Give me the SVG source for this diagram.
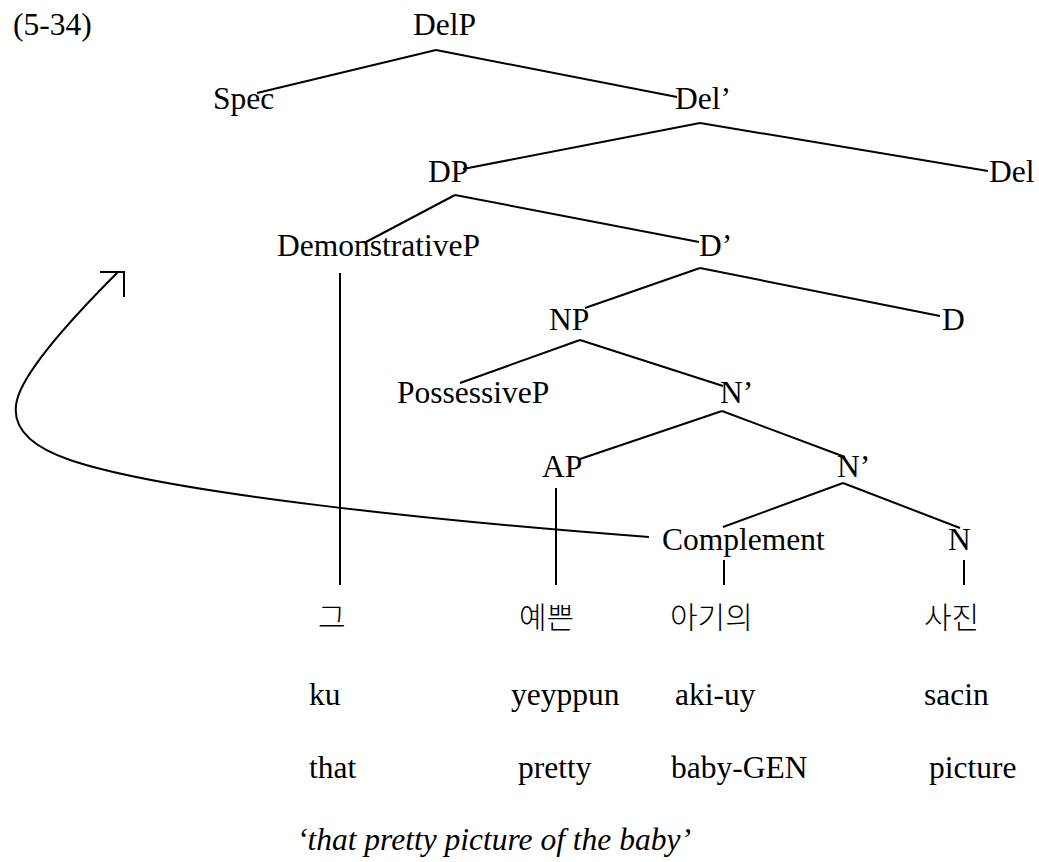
<svg xmlns="http://www.w3.org/2000/svg" width="1039" height="862" viewBox="0 0 1039 862">
  <style>
    .lbl { font-family: "Liberation Serif", "Times New Roman", serif; font-size: 31.5px; fill: #000; }
    .kor { font-family: "Noto Sans CJK KR", sans-serif; font-size: 30px; font-weight: 300; fill: #000; }
    .it { font-style: italic; }
    .edge { stroke: #000; stroke-width: 2; fill: none; stroke-linecap: butt; }
    .mv { stroke: #000; stroke-width: 2; fill: none; }
  </style>
  <rect width="1039" height="862" fill="#fff"/>

  <text class="lbl" x="13" y="35">(5-34)</text>

  <!-- tree edges, movement arrow and leaf stems -->
  <g id="connectors">
    <line class="edge" x1="436" y1="50" x2="257" y2="93"/>
    <line class="edge" x1="436" y1="50" x2="677" y2="97"/>
    <line class="edge" x1="700" y1="123" x2="463" y2="169"/>
    <line class="edge" x1="700" y1="123" x2="988" y2="171"/>
    <line class="edge" x1="455" y1="195" x2="366" y2="242"/>
    <line class="edge" x1="455" y1="195" x2="699" y2="242"/>
    <line class="edge" x1="700" y1="268" x2="585" y2="308"/>
    <line class="edge" x1="700" y1="268" x2="940" y2="316"/>
    <line class="edge" x1="580" y1="340" x2="460" y2="383"/>
    <line class="edge" x1="580" y1="340" x2="723" y2="386"/>
    <line class="edge" x1="722" y1="411" x2="580" y2="459"/>
    <line class="edge" x1="722" y1="411" x2="845" y2="457"/>
    <line class="edge" x1="843" y1="483" x2="723" y2="527"/>
    <line class="edge" x1="843" y1="483" x2="960" y2="528"/>
    <!-- stems down to the words -->
    <line class="edge" x1="340" y1="273" x2="340" y2="585"/>
    <line class="edge" x1="556" y1="488" x2="556" y2="585"/>
    <line class="edge" x1="724" y1="560" x2="724" y2="585"/>
    <line class="edge" x1="964" y1="560" x2="964" y2="585"/>
    <!-- movement of the complement -->
    <path class="mv" d="M649,537 C449,522 170,494 70,460 C20,443 12,420 17,400 C24,372 70,320 118,272"/>
    <polyline class="mv" points="100,272 124,272 124,297"/>
  </g>

  <g id="delp"><text class="lbl" x="413" y="35">DelP</text></g>
  <g id="spec"><text class="lbl" x="213" y="109">Spec</text></g>
  <g id="del-bar"><text class="lbl" x="675" y="109">Del’</text></g>
  <g id="dp"><text class="lbl" x="428" y="182">DP</text></g>
  <g id="del"><text class="lbl" x="989" y="182">Del</text></g>
  <g id="demonstrativep"><text class="lbl" x="277" y="256">DemonstrativeP</text></g>
  <g id="d-bar"><text class="lbl" x="699" y="256">D’</text></g>
  <g id="np"><text class="lbl" x="549" y="330">NP</text></g>
  <g id="d"><text class="lbl" x="942" y="330">D</text></g>
  <g id="possessivep"><text class="lbl" x="397" y="403">PossessiveP</text></g>
  <g id="n-bar-1"><text class="lbl" x="720" y="403">N’</text></g>
  <g id="ap"><text class="lbl" x="542" y="477">AP</text></g>
  <g id="n-bar-2"><text class="lbl" x="837" y="477">N’</text></g>
  <g id="complement"><text class="lbl" x="662" y="550">Complement</text></g>
  <g id="n"><text class="lbl" x="948" y="550">N</text></g>

  <!-- Korean words -->
  <g id="word-ku">
    <text class="kor" x="318" y="628">그</text>
    <text class="lbl" x="309" y="705">ku</text>
    <text class="lbl" x="309" y="778">that</text>
  </g>
  <g id="word-yeyppun">
    <text class="kor" x="519" y="628">예쁜</text>
    <text class="lbl" x="511" y="705">yeyppun</text>
    <text class="lbl" x="518" y="778">pretty</text>
  </g>
  <g id="word-akiuy">
    <text class="kor" x="670" y="628">아기의</text>
    <text class="lbl" x="675" y="705">aki-uy</text>
    <text class="lbl" x="671" y="778">baby-GEN</text>
  </g>
  <g id="word-sacin">
    <text class="kor" x="924" y="628">사진</text>
    <text class="lbl" x="924" y="705">sacin</text>
    <text class="lbl" x="929" y="778">picture</text>
  </g>

  <text class="lbl it" x="297" y="850">‘that pretty picture of the baby’</text>
</svg>
